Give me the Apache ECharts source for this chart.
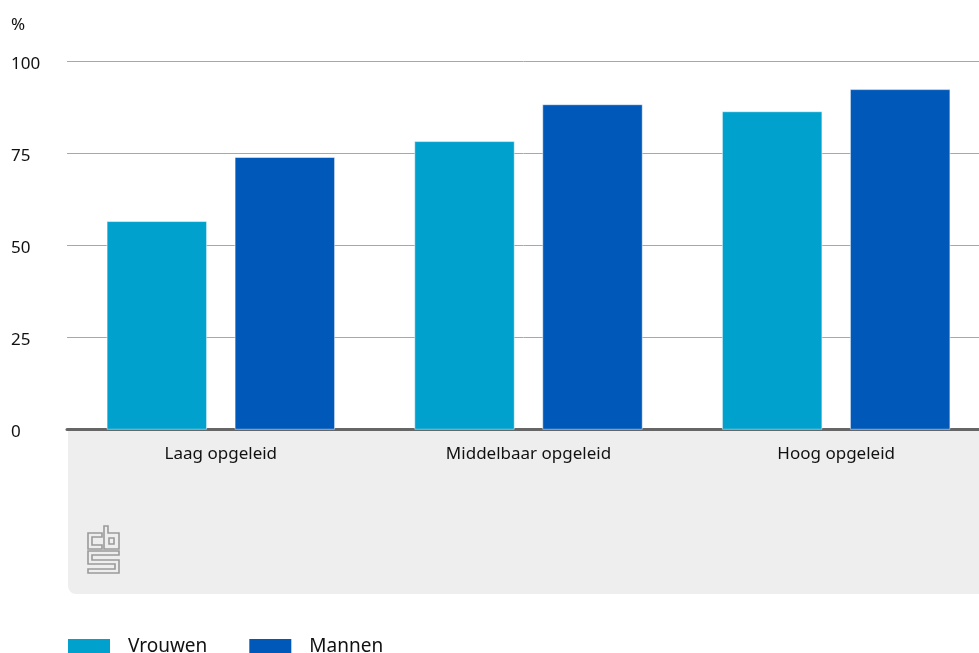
<!DOCTYPE html>
<html><head><meta charset="utf-8">
<script src="https://cdn.jsdelivr.net/npm/echarts@6/dist/echarts.min.js"></script>
<style>html,body{margin:0;padding:0;background:#fff}#c{width:979px;height:653px}</style>
</head><body><div id="c"></div>
<script>
var categories = ['Laag opgeleid', 'Middelbaar opgeleid', 'Hoog opgeleid'];
var vrouwen = [56.5, 78.2, 86.3];
var mannen = [73.9, 88.2, 92.3];
var yTicks = [0, 25, 50, 75, 100];
var seriesNames = ['Vrouwen', 'Mannen'];

var FONT = 'Noto Sans';
var chart = echarts.init(document.getElementById('c'), null, {renderer: 'canvas'});
var L = 67, T = 61, B = 429.5;
function logo() {
  var ox = 88, oy = 526;
  function p(pts) { return pts.map(function (q) { return [ox + q[0], oy + q[1]]; }); }
  var st = {stroke: '#9a9a9a', lineWidth: 1.6, fill: 'none'};
  return [
    {type: 'polygon', shape: {points: p([[0,7],[14,7],[14,11],[4,11],[4,19],[14,19],[14,23],[0,23]])}, style: st, z: 5},
    {type: 'polygon', shape: {points: p([[16,0],[20,0],[20,7],[31,7],[31,23],[16,23]])}, style: st, z: 5},
    {type: 'polygon', shape: {points: p([[21,12],[26,12],[26,18],[21,18]])}, style: st, z: 5},
    {type: 'polygon', shape: {points: p([[0,25],[31,25],[31,29],[4,29],[4,34],[31,34],[31,47],[0,47],[0,43],[27,43],[27,38],[0,38]])}, style: st, z: 5}
  ];
}
chart.setOption({
  animation: false,
  textStyle: {fontFamily: FONT},
  title: {text: '%', left: 11, top: 17, padding: 0, textStyle: {fontFamily: FONT, fontSize: 17, fontWeight: 'normal', color: '#111'}},
  grid: {left: L, width: 923, top: T, bottom: 653 - B, outerBoundsMode: 'none', containLabel: false},
  legend: {
    data: seriesNames, left: 66, top: 637, padding: 0, icon: 'rect', itemWidth: 44, itemHeight: 18, itemGap: 40,
    textStyle: {fontFamily: FONT, fontSize: 19, color: '#111', padding: [0, 0, 0, 12]}
  },
  xAxis: {
    type: 'category', data: categories,
    axisLine: {lineStyle: {color: '#666', width: 3}},
    axisTick: {show: false},
    axisLabel: {fontFamily: FONT, fontSize: 17, color: '#111', margin: 16}
  },
  yAxis: {
    type: 'value', min: 0, max: 100, interval: 25,
    axisLine: {show: false}, axisTick: {show: false},
    axisLabel: {fontFamily: FONT, fontSize: 17, color: '#111', align: 'left', margin: 56, verticalAlign: 'top', lineHeight: 6,
      formatter: function (v) { return yTicks.indexOf(v) >= 0 ? String(v) : ''; }},
    splitLine: {lineStyle: {color: '#a8a8a8', width: 1}}
  },
  graphic: [
    {type: 'rect', shape: {x: 68, y: B + 1.5, width: 979 - 68 + 10, height: 594 - B - 1.5, r: [0, 0, 0, 8]}, style: {fill: '#eeeeee'}, z: -1, silent: true}
  ].concat(logo()),
  series: [
    {name: seriesNames[0], type: 'bar', data: vrouwen, barWidth: 100, barGap: '28%',
      itemStyle: {color: '#00a1cd', borderColor: '#ffffff', borderWidth: 0.5}},
    {name: seriesNames[1], type: 'bar', data: mannen, barWidth: 100,
      itemStyle: {color: '#0058b8', borderColor: '#ffffff', borderWidth: 0.5}}
  ]
});
</script></body></html>
